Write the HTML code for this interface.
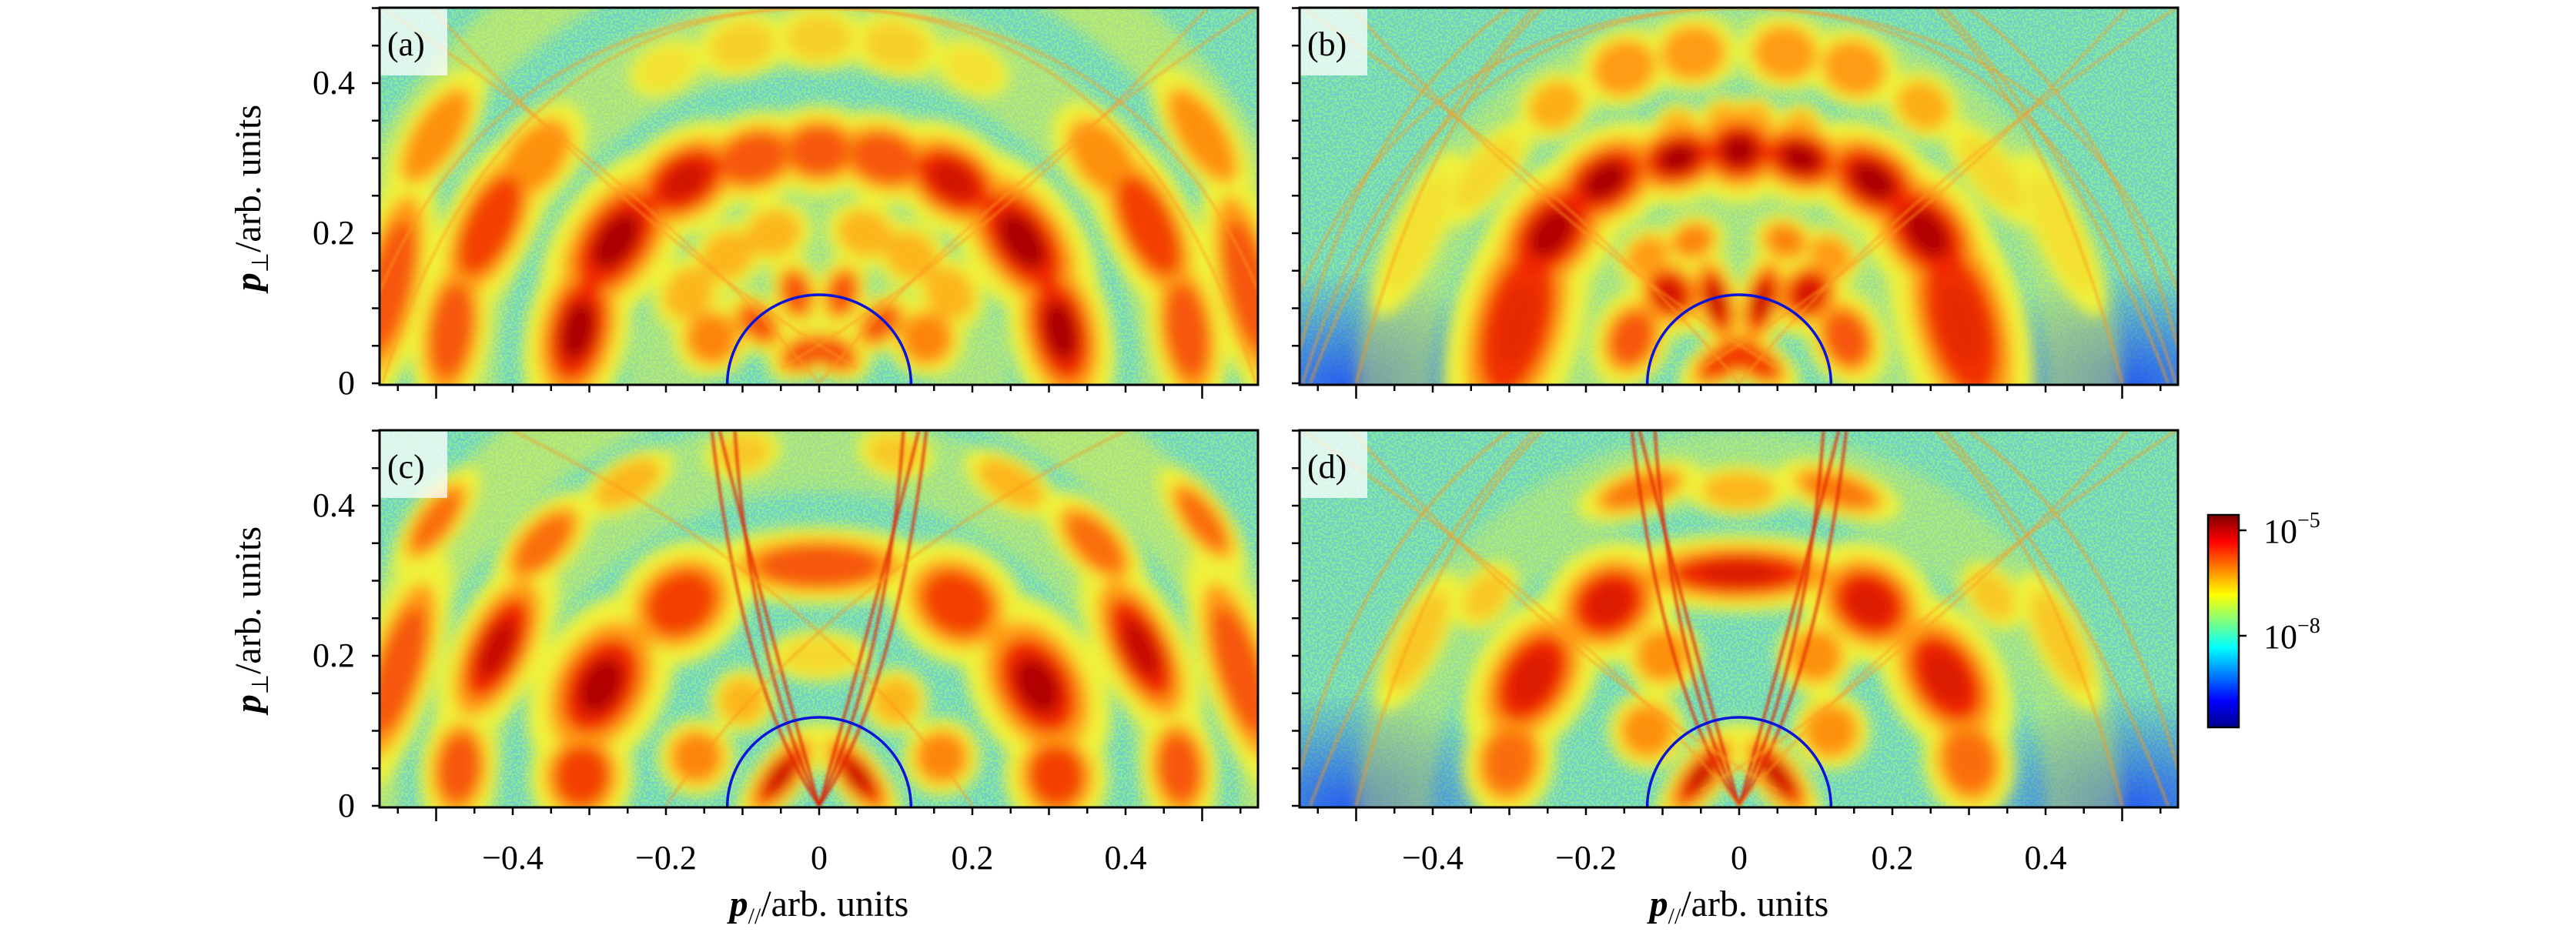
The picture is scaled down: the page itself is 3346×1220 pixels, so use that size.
<!DOCTYPE html>
<html style="width:3346px;height:1220px;overflow:hidden"><head><meta charset="utf-8">
<style>
html,body{margin:0;padding:0;background:#fff;overflow:hidden;width:3346px;height:1220px;}
body{position:relative;font-family:"Liberation Serif",serif;}
svg{position:absolute;left:0;top:0;display:block;overflow:hidden;}
text{font-family:"Liberation Serif",serif;}
</style></head>
<body>
<svg id="s" width="3346" height="1220" viewBox="0 0 3346 1220" xmlns="http://www.w3.org/2000/svg" font-family="Liberation Serif, serif">
<defs>
<filter id="bl" x="-20%" y="-20%" width="140%" height="140%"><feGaussianBlur stdDeviation="9"/></filter>
<filter id="bl2" x="-20%" y="-20%" width="140%" height="140%"><feGaussianBlur stdDeviation="1.5"/></filter>
<filter id="noise" x="0" y="0" width="100%" height="100%">
<feTurbulence type="fractalNoise" baseFrequency="0.35" numOctaves="1" seed="3"/>
<feColorMatrix type="matrix" values="0 0 0 0 0.1  0 0 0 0 0.45  0 0 0 0 1  0 0 0 -9 5.2"/>
</filter>
<linearGradient id="jet" x1="0" y1="1" x2="0" y2="0">
<stop offset="0" stop-color="#00008f"/><stop offset="0.125" stop-color="#0000ff"/>
<stop offset="0.375" stop-color="#00ffff"/><stop offset="0.5" stop-color="#7fff7f"/>
<stop offset="0.625" stop-color="#ffff00"/><stop offset="0.875" stop-color="#ff0000"/>
<stop offset="1" stop-color="#800000"/>
</linearGradient>
<radialGradient id="bc"><stop offset="0" stop-color="#1040ff" stop-opacity="0.8"/><stop offset="1" stop-color="#1040ff" stop-opacity="0"/></radialGradient>
</defs>
<g id="root"></g>
</svg>
<script>
const NS="http://www.w3.org/2000/svg";
const root=document.getElementById('root');
function el(t,a,p){const e=document.createElementNS(NS,t);for(const k in a)e.setAttribute(k,a[k]);(p||root).appendChild(e);return e;}
const W=1141,H=490,CX=571,CY=488,SX=995,SY=975;
function panel(px,py,blobs,opt){
  const g=el('g',{transform:`translate(${px},${py})`});
  const cid='c'+px+'_'+py;
  const cp=el('clipPath',{id:cid},g);el('rect',{x:0,y:0,width:W,height:H},cp);
  const c=el('g',{'clip-path':`url(#${cid})`},g);
  el('rect',{x:0,y:0,width:W,height:H,fill:'#88ea98'},c);
  el('rect',{x:0,y:0,width:W,height:H,filter:'url(#noise)',opacity:0.45},c);
  if(opt.corners){
    el('ellipse',{cx:60,cy:H,rx:230,ry:150,fill:'url(#bc)'},c);
    el('ellipse',{cx:W-60,cy:H,rx:230,ry:150,fill:'url(#bc)'},c);
  }
  const b=el('g',{filter:'url(#bl)'},c);
  (opt.rings||[]).forEach(r=>{
    el('ellipse',{cx:CX,cy:CY,rx:r[0]*SX,ry:r[0]*SY,fill:'none',stroke:'#e8f040','stroke-width':r[1]*SX,opacity:r[2]},b);
  });
  const all=[];
  blobs.forEach(q=>{all.push(q);if(q[0]!==0)all.push([-q[0],q[1],q[2],q[3],q[4]]);});
  const layers=[['#f0f23a',1.7,L=>Math.min(1,L/1.5),0],['#ff9c12',1.2,L=>Math.min(1,L-1.3),1.5],['#f02800',0.88,L=>Math.min(1,L-2.4),2.5],['#a80000',0.52,L=>Math.min(1,(L-3.2)*1.5),3.3]];
  layers.forEach(ly=>{
    all.forEach(q=>{
      const [u,v,maj,mn,L]=q; if(L<ly[3])return;
      const x=CX+u*SX,y=CY-v*SY;
      const ang=Math.atan2(-v*SY,u*SX)*180/Math.PI;
      el('ellipse',{cx:x,cy:y,rx:mn*SX*ly[1],ry:maj*SX*ly[1],fill:ly[0],opacity:ly[2](L),transform:`rotate(${ang} ${x} ${y})`},b);
    });
  });
  const ln=el('g',{filter:'url(#bl2)',fill:'none'},c);
  (opt.paths||[]).forEach(p=>el('path',{d:p[0],stroke:p[1],'stroke-width':p[2],opacity:p[3]},ln));
  el('path',{d:`M ${CX-0.12*SX} ${CY+2} A ${0.12*SX} ${0.12*SY} 0 0 1 ${CX+0.12*SX} ${CY+2}`,fill:'none',stroke:'#0a14d8','stroke-width':3.5},c);
  el('rect',{x:0,y:0,width:88,height:88,fill:'#ffffff',opacity:0.75},c);
  const t=el('text',{x:10,y:62,'font-size':44,fill:'#000'},g);t.textContent=opt.label;
  el('rect',{x:0,y:0,width:W,height:H,fill:'none',stroke:'#000','stroke-width':3},g);
  for(let k=0;k<=10;k++){const y=CY-k*0.05*SY;el('line',{x1:0,y1:y,x2:-10,y2:y,stroke:'#000','stroke-width':2.5},g);}
  for(let k=-11;k<=11;k++){const x=CX+k*0.05*SX;if(x<0||x>W)continue;const len=(k%2===0)?(Math.abs(k)===10?18:10):8;el('line',{x1:x,y1:H,x2:x,y2:H+len,stroke:'#000','stroke-width':2.5},g);}
  if(opt.ylab){
    [[0,'0'],[0.2,'0.2'],[0.4,'0.4']].forEach(a=>{const t=el('text',{x:-32,y:CY-a[0]*SY+14,'font-size':44,'text-anchor':'end'},g);t.textContent=a[1];});
  }
  if(opt.xlab){
    [[-0.4,'\u22120.4'],[-0.2,'\u22120.2'],[0,'0'],[0.2,'0.2'],[0.4,'0.4']].forEach(a=>{const t=el('text',{x:CX+a[0]*SX,y:H+80,'font-size':44,'text-anchor':'middle'},g);t.textContent=a[1];});
  }
}
function mir(pts){
  const f=(a)=>`M ${CX+a[0]*SX} ${CY-a[1]*SY} Q ${CX+a[2]*SX} ${CY-a[3]*SY} ${CX+a[4]*SX} ${CY-a[5]*SY}`;
  const m=[-pts[0],pts[1],-pts[2],pts[3],-pts[4],pts[5]];
  return [f(pts),f(m)];
}
function lines(list,col,w,o){const r=[];list.forEach(p=>mir(p).forEach(d=>r.push([d,col,w,o])));return r;}
const crossA=lines([[-0.6,0.05,-0.45,0.52,0.05,0.5],[-0.57,0.0,-0.42,0.5,0.0,0.5],[0.0,0.0,0.2,0.25,0.57,0.5],[-0.05,0.02,0.25,0.2,0.55,0.55]],'#ff9a20',3,0.6);
const streaks=lines([[0,0,0.09,0.2,0.11,0.5],[0,0,0.07,0.25,0.13,0.5],[0,0,0.1,0.15,0.14,0.5]],'#e02000',4,0.7);
const cornerLines=lines([[-0.58,0.02,-0.5,0.35,-0.3,0.5],[-0.56,0.0,-0.45,0.3,-0.25,0.52],[-0.5,0.0,-0.4,0.4,-0.2,0.55]],'#ff9a10',3,0.65);
panel(493,10,[
 [0,0.31,0.045,0.035,3],[0.085,0.30,0.05,0.035,3],[0.175,0.27,0.06,0.04,3.5],[0.265,0.19,0.08,0.045,4],[0.315,0.07,0.075,0.04,4],
 [0.37,0.30,0.05,0.03,2.5],[0.43,0.21,0.08,0.035,3.2],[0.48,0.07,0.07,0.03,3],[0.56,0.13,0.1,0.03,3],[0.50,0.33,0.06,0.025,2.5],
 [0.06,0.20,0.03,0.025,2],[0.12,0.17,0.03,0.025,2],[0.17,0.12,0.03,0.025,2],[0.14,0.06,0.03,0.03,2.6],[0.03,0.12,0.02,0.03,3],[0.08,0.08,0.02,0.03,3],[0.02,0.04,0.03,0.02,3],
 [0,0.46,0.035,0.025,1.7],[0.1,0.45,0.035,0.025,1.7],[0.2,0.42,0.03,0.02,1.5]
],{label:'(a)',ylab:true,rings:[[0.47,0.1,0.45],[0.62,0.08,0.5],[0.2,0.1,0.4]],paths:crossA});
panel(1688,10,[
 [0,0.31,0.045,0.04,4],[0.08,0.30,0.05,0.035,4],[0.175,0.27,0.06,0.04,4],[0.245,0.20,0.07,0.045,3.8],[0.29,0.08,0.11,0.05,3.3],
 [0.03,0.11,0.02,0.045,3.6],[0.09,0.12,0.03,0.035,3.5],[0.14,0.06,0.04,0.03,3],[0.06,0.19,0.025,0.02,2.6],[0.12,0.17,0.025,0.02,2.3],[0.02,0.03,0.04,0.02,3.2],
 [0.06,0.44,0.035,0.03,2.3],[0.15,0.42,0.035,0.03,2.3],[0.24,0.37,0.03,0.025,2.1],[0.02,0.35,0.02,0.02,2],[0.08,0.34,0.02,0.02,2],
 [0.33,0.28,0.05,0.02,1.6],[0.42,0.20,0.07,0.02,1.5]
],{label:'(b)',corners:true,rings:[[0.45,0.1,0.4],[0.2,0.1,0.4]],paths:crossA.concat(cornerLines)});
panel(493,559,[
 [0,0.32,0.09,0.03,3],[0.18,0.27,0.055,0.045,3.2],[0.285,0.16,0.075,0.05,3.8],[0.31,0.04,0.045,0.04,3.2],[0.36,0.35,0.05,0.025,2.8],
 [0.42,0.21,0.08,0.035,3.6],[0.47,0.05,0.05,0.03,3],[0.55,0.18,0.1,0.03,3],[0.16,0.065,0.03,0.03,2.6],[0.1,0.14,0.025,0.025,2],
 [0.05,0.04,0.05,0.02,3.6],[0.5,0.38,0.05,0.02,2.8],[0.25,0.43,0.04,0.02,2],[0.1,0.47,0.03,0.02,1.8],[0,0.2,0.04,0.02,1.6]
],{label:'(c)',ylab:true,xlab:true,rings:[[0.47,0.1,0.4],[0.6,0.1,0.5]],paths:streaks.concat(lines([[-0.2,0.0,0.0,0.3,0.4,0.5]],'#ff8a10',3,0.5))});
panel(1688,559,[
 [0,0.31,0.1,0.03,3.4],[0.17,0.27,0.055,0.045,3.4],[0.27,0.17,0.07,0.045,3.4],[0.3,0.06,0.045,0.035,2.8],[0.1,0.2,0.03,0.03,2.5],
 [0.12,0.1,0.03,0.03,2.5],[0.13,0.42,0.05,0.02,2.7],[0.05,0.04,0.05,0.02,3.6],[0.33,0.28,0.03,0.02,1.8],[0.42,0.22,0.06,0.02,1.8],[0,0.42,0.04,0.02,2]
],{label:'(d)',xlab:true,corners:true,rings:[[0.45,0.1,0.35]],paths:streaks.concat(cornerLines).concat(crossA.slice(4))});
function txt(x,y,html,size,rot){const t=el('text',{x:x,y:y,'font-size':size,'text-anchor':'middle'});if(rot)t.setAttribute('transform',`rotate(-90 ${x} ${y})`);t.innerHTML=html;return t;}
const PL='<tspan font-style="italic" font-weight="bold">p</tspan><tspan font-size="30" dy="10">//</tspan><tspan dy="-10">/arb. units</tspan>';
const PP='<tspan font-style="italic" font-weight="bold">p</tspan><tspan font-size="30" dy="10">⊥</tspan><tspan dy="-10">/arb. units</tspan>';
txt(1064,1190,PL,48);txt(2259,1190,PL,48);
txt(338,257,PP,48,true);txt(338,805,PP,48,true);
el('rect',{x:2868,y:669,width:40,height:276,fill:'url(#jet)',stroke:'#000','stroke-width':2.5});
el('line',{x1:2908,y1:689,x2:2918,y2:689,stroke:'#000','stroke-width':2.5});
el('line',{x1:2908,y1:826,x2:2918,y2:826,stroke:'#000','stroke-width':2.5});
[[689,'5'],[826,'8']].forEach(a=>{const t=el('text',{x:2940,y:a[0]+16,'font-size':44});t.innerHTML=`10<tspan font-size="28" dy="-20">\u2212${a[1]}</tspan>`;});
</script>
</body></html>
